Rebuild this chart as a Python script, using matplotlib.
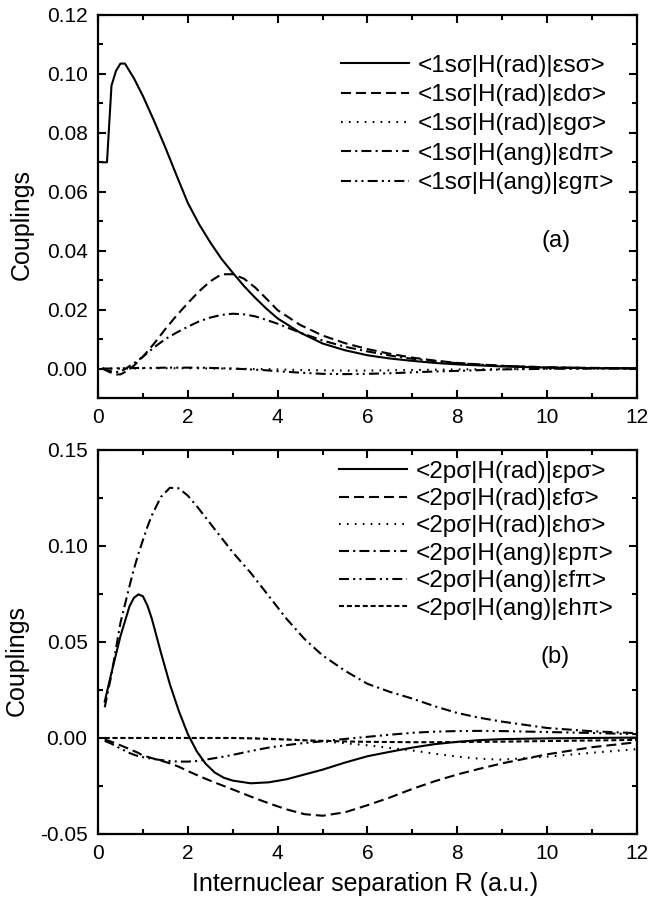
import matplotlib
matplotlib.use("Agg")
import matplotlib.pyplot as plt
from matplotlib.ticker import MultipleLocator, FormatStrFormatter

plt.rcParams['font.family'] = ['Liberation Sans', 'DejaVu Sans']

# ---- panel (a): 1s sigma couplings ----
r_a = [0.1, 0.2, 0.3, 0.4, 0.5, 0.6, 0.7, 0.8, 1.0, 1.25, 1.5, 1.75, 2.0, 2.25, 2.5,
       2.75, 3.0, 3.25, 3.5, 3.75, 4.0, 4.5, 5.0, 5.5, 6.0, 6.5, 7.0, 7.5, 8.0, 9.0,
       10.0, 11.0, 12.0]
a_rad_es = [0.0700, 0.0700, 0.0960, 0.1010, 0.1035, 0.1035, 0.1010, 0.0985, 0.0925,
            0.0840, 0.0750, 0.0655, 0.0562, 0.0490, 0.0428, 0.0372, 0.0325, 0.0280,
            0.0240, 0.0203, 0.0170, 0.0122, 0.0085, 0.0062, 0.0045, 0.0034, 0.0026,
            0.0019, 0.0014, 0.0007, 0.0003, 0.0001, 0.0000]
a_rad_ed = [0.0000, -0.0008, -0.0015, -0.0020, -0.0020, -0.0012, -0.0002, 0.0010,
            0.0040, 0.0085, 0.0134, 0.0180, 0.0222, 0.0262, 0.0296, 0.0320, 0.0320,
            0.0305, 0.0275, 0.0237, 0.0198, 0.0148, 0.0112, 0.0086, 0.0066, 0.0050,
            0.0037, 0.0027, 0.0019, 0.0009, 0.0004, 0.0002, 0.0001]
a_rad_eg = [0.0, 0.0, 0.0, 0.0, 0.0, 0.0, 0.0, 0.0, 0.0001, 0.0001, 0.0001, 0.0001,
            0.0001, 0.0001, 0.0, 0.0, -0.0001, -0.0001, -0.0002, -0.0002, -0.0003,
            -0.0005, -0.0006, -0.0007, -0.0007, -0.0006, -0.0005, -0.0004, -0.0003,
            -0.0002, -0.0001, 0.0, 0.0]
a_ang_ed = [0.0000, -0.0005, -0.0010, -0.0012, -0.0010, -0.0002, 0.0008, 0.0018,
            0.0040, 0.0072, 0.0100, 0.0122, 0.0142, 0.0160, 0.0173, 0.0182, 0.0186,
            0.0184, 0.0177, 0.0165, 0.0152, 0.0122, 0.0095, 0.0074, 0.0058, 0.0044,
            0.0033, 0.0025, 0.0018, 0.0009, 0.0004, 0.0002, 0.0001]
a_ang_eg = [0.0, 0.0, 0.0, 0.0001, 0.0001, 0.0001, 0.0001, 0.0002, 0.0002, 0.0002,
            0.0003, 0.0003, 0.0003, 0.0003, 0.0002, 0.0001, 0.0000, -0.0002, -0.0004,
            -0.0006, -0.0009, -0.0014, -0.0018, -0.0019, -0.0018, -0.0016, -0.0013,
            -0.0010, -0.0008, -0.0003, -0.0001, 0.0, 0.0]

# ---- panel (b): 2p sigma couplings ----
r_b = [0.15, 0.3, 0.5, 0.7, 0.8, 0.9, 1.0, 1.1, 1.2, 1.4, 1.6, 1.8, 2.0, 2.2, 2.4, 2.6,
       2.8, 3.0, 3.4, 3.8, 4.2, 4.6, 5.0, 5.5, 6.0, 6.5, 7.0, 7.5, 8.0, 8.5, 9.0, 10.0,
       11.0, 12.0]
b_rad_ep = [0.0190, 0.0340, 0.0530, 0.0685, 0.0730, 0.0748, 0.0738, 0.0690, 0.0620,
            0.0445, 0.0280, 0.0140, 0.0020, -0.0070, -0.0135, -0.0180, -0.0207,
            -0.0222, -0.0236, -0.0231, -0.0215, -0.0190, -0.0165, -0.0128, -0.0095,
            -0.0072, -0.0050, -0.0032, -0.0020, -0.0011, -0.0006, -0.0002, 0.0000,
            0.0002]
b_rad_ef = [-0.0008, -0.0020, -0.0038, -0.0058, -0.0068, -0.0078, -0.0092, -0.0098,
            -0.0105, -0.0118, -0.0132, -0.0150, -0.0172, -0.0193, -0.0213, -0.0232,
            -0.0250, -0.0268, -0.0305, -0.0340, -0.0372, -0.0397, -0.0405, -0.0387,
            -0.0350, -0.0310, -0.0265, -0.0225, -0.0190, -0.0160, -0.0132, -0.0085,
            -0.0048, -0.0022]
b_rad_eh = [0.0, 0.0, 0.0, 0.0, 0.0, 0.0, 0.0, 0.0, 0.0, 0.0, 0.0, 0.0, 0.0, 0.0, 0.0,
            0.0, 0.0, 0.0, -0.0001, -0.0003, -0.0007, -0.0012, -0.0018, -0.0027,
            -0.0038, -0.0052, -0.0065, -0.0082, -0.0097, -0.0108, -0.0113, -0.0097,
            -0.0077, -0.0058]
b_ang_ep = [0.0160, 0.0330, 0.0600, 0.0790, 0.0880, 0.0960, 0.1030, 0.1100, 0.1160,
            0.1255, 0.1303, 0.1300, 0.1262, 0.1207, 0.1147, 0.1087, 0.1027, 0.0967,
            0.0860, 0.0740, 0.0620, 0.0515, 0.0430, 0.0350, 0.0282, 0.0240, 0.0205,
            0.0165, 0.0130, 0.0105, 0.0085, 0.0052, 0.0035, 0.0025]
b_ang_ef = [-0.0015, -0.0030, -0.0055, -0.0078, -0.0087, -0.0095, -0.0100, -0.0104,
            -0.0108, -0.0115, -0.0120, -0.0123, -0.0123, -0.0120, -0.0113, -0.0105,
            -0.0097, -0.0088, -0.0068, -0.0050, -0.0037, -0.0026, -0.0017, -0.0005,
            0.0006, 0.0017, 0.0027, 0.0033, 0.0036, 0.0037, 0.0036, 0.0031, 0.0026,
            0.0020]
b_ang_eh = [0.0, 0.0, 0.0, 0.0, 0.0, 0.0, 0.0, 0.0, 0.0, 0.0, 0.0, 0.0, 0.0, 0.0, 0.0,
            0.0, 0.0, 0.0, -0.0002, -0.0005, -0.0008, -0.0012, -0.0015, -0.0018,
            -0.0020, -0.0021, -0.0022, -0.0022, -0.0021, -0.0020, -0.0019, -0.0016,
            -0.0013, -0.0010]

labels_a = ["<1sσ|H(rad)|εsσ>", "<1sσ|H(rad)|εdσ>", "<1sσ|H(rad)|εgσ>",
            "<1sσ|H(ang)|εdπ>", "<1sσ|H(ang)|εgπ>"]
labels_b = ["<2pσ|H(rad)|εpσ>", "<2pσ|H(rad)|εfσ>", "<2pσ|H(rad)|εhσ>",
            "<2pσ|H(ang)|εpπ>", "<2pσ|H(ang)|εfπ>", "<2pσ|H(ang)|εhπ>"]

SOLID = '-'
DASH = (0, (4.8, 2.4))
DOT = (0, (0.8, 3.0))
DASHDOT = (0, (4.8, 2.0, 1.0, 2.0))
DASHDOTDOT = (0, (4.8, 2.0, 1.0, 2.0, 1.0, 2.0))
SHORTDASH = (0, (2.4, 1.4))


def style_axes(ax, ymin, ymax, ymajor, yminor):
    ax.set_xlim(0, 12)
    ax.set_ylim(ymin, ymax)
    ax.xaxis.set_major_locator(MultipleLocator(2))
    ax.xaxis.set_minor_locator(MultipleLocator(1))
    ax.yaxis.set_major_locator(MultipleLocator(ymajor))
    ax.yaxis.set_minor_locator(MultipleLocator(yminor))
    ax.yaxis.set_major_formatter(FormatStrFormatter('%.2f'))
    ax.tick_params(which='both', direction='in', top=True, right=True, width=1.5,
                   labelsize=15, pad=7.5)
    ax.tick_params(which='major', length=6)
    ax.tick_params(which='minor', length=3.5)
    for s in ax.spines.values():
        s.set_linewidth(1.6)
    ax.set_ylabel("Couplings", fontsize=18)


fig = plt.figure(figsize=(6.49, 9.07), dpi=100)

# panel (a)
ax1 = fig.add_axes([0.151, 0.5612, 0.8305, 0.4223])
lw = 1.5
ax1.plot(r_a, a_rad_es, color='k', lw=lw, linestyle=SOLID, label=labels_a[0])
ax1.plot(r_a, a_rad_ed, color='k', lw=lw, linestyle=DASH, label=labels_a[1])
ax1.plot(r_a, a_rad_eg, color='k', lw=lw, linestyle=DOT, label=labels_a[2])
ax1.plot(r_a, a_ang_ed, color='k', lw=lw, linestyle=DASHDOT, label=labels_a[3])
ax1.plot(r_a, a_ang_eg, color='k', lw=lw, linestyle=DASHDOTDOT, label=labels_a[4])
style_axes(ax1, -0.01, 0.12, 0.02, 0.01)
ax1.yaxis.set_label_coords(-0.119, 0.452)
ax1.legend(loc='upper right', bbox_to_anchor=(0.957, 0.896), frameon=False,
           fontsize=17.5, handlelength=2.8, handletextpad=0.35, labelspacing=0.3,
           borderpad=0, borderaxespad=0)
ax1.text(0.85, 0.41, "(a)", transform=ax1.transAxes, fontsize=17,
         ha='center', va='center')

# panel (b)
ax2 = fig.add_axes([0.151, 0.0805, 0.8305, 0.4234])
ax2.plot(r_b, b_rad_ep, color='k', lw=lw, linestyle=SOLID, label=labels_b[0])
ax2.plot(r_b, b_rad_ef, color='k', lw=lw, linestyle=DASH, label=labels_b[1])
ax2.plot(r_b, b_rad_eh, color='k', lw=lw, linestyle=DOT, label=labels_b[2])
ax2.plot(r_b, b_ang_ep, color='k', lw=lw, linestyle=DASHDOT, label=labels_b[3])
ax2.plot(r_b, b_ang_ef, color='k', lw=lw, linestyle=DASHDOTDOT, label=labels_b[4])
ax2.plot(r_b, b_ang_eh, color='k', lw=lw, linestyle=SHORTDASH, label=labels_b[5])
style_axes(ax2, -0.05, 0.15, 0.05, 0.025)
ax2.yaxis.set_label_coords(-0.128, 0.453)
ax2.legend(loc='upper right', bbox_to_anchor=(0.957, 0.972), frameon=False,
           fontsize=17.5, handlelength=2.8, handletextpad=0.35, labelspacing=0.22,
           borderpad=0, borderaxespad=0)
ax2.text(0.848, 0.461, "(b)", transform=ax2.transAxes, fontsize=17,
         ha='center', va='center')
ax2.set_xlabel("Internuclear separation R (a.u.)", fontsize=18)
ax2.xaxis.set_label_coords(0.496, -0.099)

fig.savefig("out.png", dpi=100)
